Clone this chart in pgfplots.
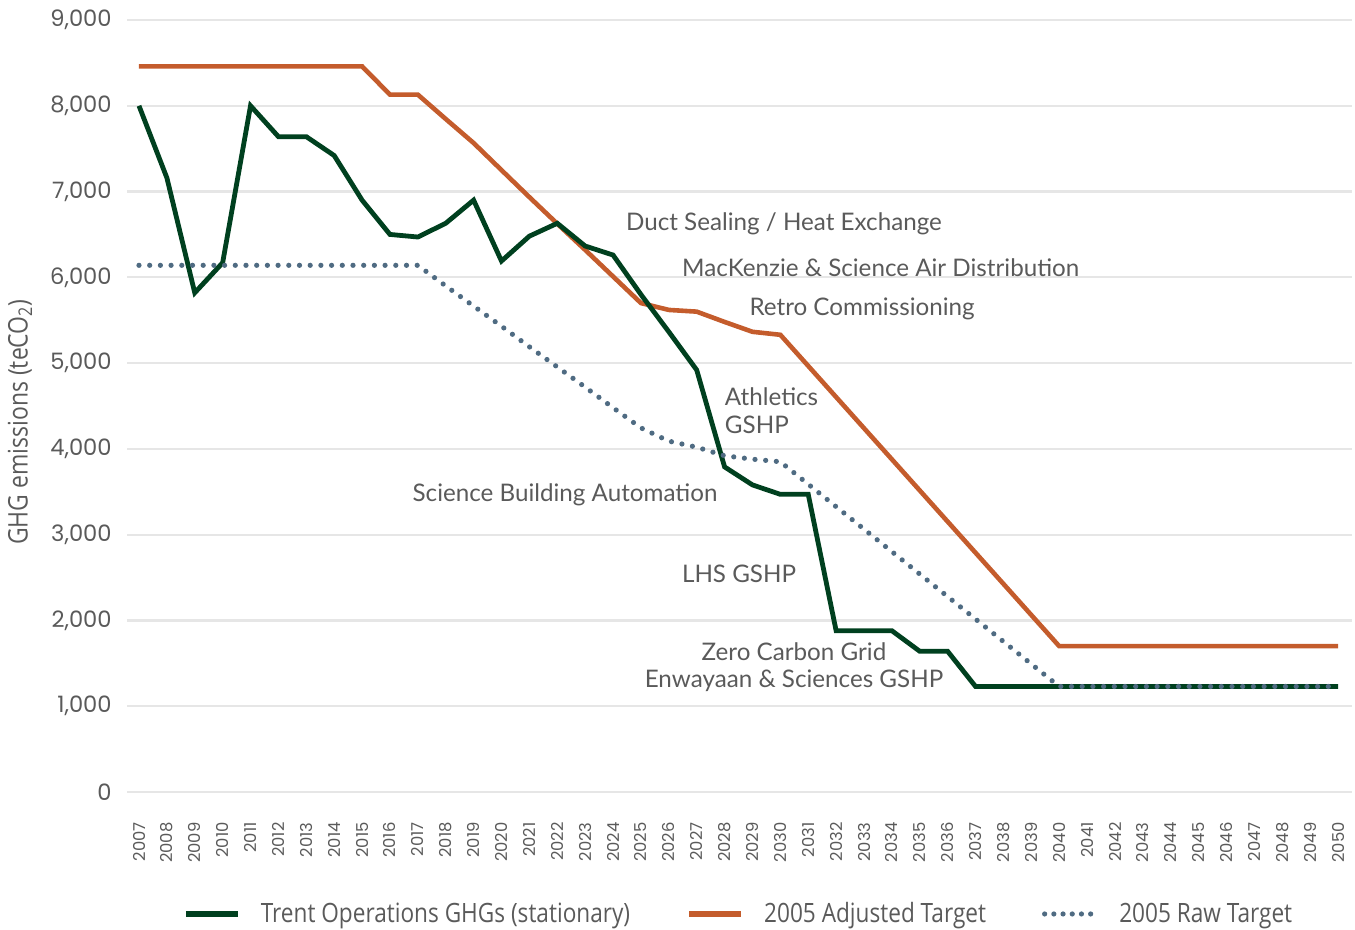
\documentclass[border=0pt]{standalone}
\usepackage{fontspec}
\setmainfont{Lato}
\newfontfamily\tickfont{Poppins}
\newfontfamily\condfont[FakeStretch=0.85]{Open Sans}
\usepackage{pgfplots}
\pgfplotsset{compat=1.18}
\definecolor{cgreen}{HTML}{00401F}
\definecolor{corange}{HTML}{C45C2C}
\definecolor{cblue}{HTML}{4F6B82}
\definecolor{cgrid}{HTML}{E6E6E6}
\definecolor{ctext}{HTML}{5A5A5A}
\begin{document}
\begin{tikzpicture}
\path[use as bounding box] (0,0) rectangle (677.5pt,465pt);
\begin{axis}[
  at={(63.5pt,69pt)}, anchor=south west,
  scale only axis, width=612.5pt, height=386pt,
  xmin=2006.57, xmax=2050.5, ymin=0, ymax=9000,
  axis line style={draw=none},
  major tick length=0pt,
  xtick={2007,2008,2009,2010,2011,2012,2013,2014,2015,2016,2017,2018,2019,2020,2021,2022,2023,2024,2025,2026,2027,2028,2029,2030,2031,2032,2033,2034,2035,2036,2037,2038,2039,2040,2041,2042,2043,2044,2045,2046,2047,2048,2049,2050},
  xticklabels={2007,2008,2009,2010,2011,2012,2013,2014,2015,2016,2017,2018,2019,2020,2021,2022,2023,2024,2025,2026,2027,2028,2029,2030,2031,2032,2033,2034,2035,2036,2037,2038,2039,2040,2041,2042,2043,2044,2045,2046,2047,2048,2049,2050},
  ytick={0,1000,2000,3000,4000,5000,6000,7000,8000,9000},
  ymajorgrids, grid style={cgrid, line width=1.1pt},
  /pgf/number format/assume math mode=true,
  yticklabel style={font=\tickfont\fontsize{11.3}{13}\selectfont, text=ctext, anchor=east, inner xsep=7.5pt, inner ysep=0pt, /pgf/number format/1000 sep={,}},
  xticklabel style={font=\tickfont\fontsize{8.2}{10}\selectfont, text=ctext, rotate=90, anchor=east, inner xsep=15pt, inner ysep=0pt},
  legend style={at={(0.5,-0.158)}, anchor=center, draw=none, fill=none, legend columns=3,
    font=\condfont\fontsize{13.3}{15}\selectfont, text=ctext,
    /tikz/every odd column/.append style={column sep=8pt},
    /tikz/every even column/.append style={column sep=26pt}},
  legend image code/.code={\draw[#1] (0pt,0pt) -- (26pt,0pt);},
  clip=false,
]
\addlegendimage{cgreen, line width=3pt}
\addlegendentry{Trent Operations GHGs (stationary)}
\addlegendimage{corange, line width=3pt}
\addlegendentry{2005 Adjusted Target}
\addlegendimage{cblue, line width=2.6pt, line cap=round, dash pattern=on 0pt off 4.6pt}
\addlegendentry{2005 Raw Target}

\addplot[corange, line width=2.3pt, forget plot] coordinates {
(2007,8460)(2008,8460)(2009,8460)(2010,8460)(2011,8460)(2012,8460)(2013,8460)(2014,8460)(2015,8460)
(2016,8130)(2017,8130)(2018,7846)(2019,7566)(2020,7250)(2021,6935)(2022,6625)(2023,6320)(2024,6010)
(2025,5700)(2026,5620)(2027,5600)(2028,5480)(2029,5365)(2030,5330)(2031,4967)(2032,4604)(2033,4241)
(2034,3878)(2035,3515)(2036,3152)(2037,2789)(2038,2426)(2039,2063)(2040,1700)(2041,1700)(2042,1700)
(2043,1700)(2044,1700)(2045,1700)(2046,1700)(2047,1700)(2048,1700)(2049,1700)(2050,1700)};

\addplot[cgreen, line width=2.4pt, forget plot] coordinates {
(2007,8000)(2008,7160)(2009,5820)(2010,6170)(2011,8000)(2012,7640)(2013,7640)(2014,7420)(2015,6900)
(2016,6500)(2017,6470)(2018,6630)(2019,6900)(2020,6190)(2021,6480)(2022,6630)(2023,6365)(2024,6260)
(2025,5800)(2026,5365)(2027,4920)(2028,3790)(2029,3580)(2030,3470)(2031,3470)(2032,1880)(2033,1880)
(2034,1880)(2035,1640)(2036,1640)(2037,1230)(2038,1230)(2039,1230)(2040,1230)(2041,1230)(2042,1230)
(2043,1230)(2044,1230)(2045,1230)(2046,1230)(2047,1230)(2048,1230)(2049,1230)(2050,1230)};

\addplot[cblue, line width=2.6pt, line cap=round, dash pattern=on 0pt off 5.35pt, forget plot] coordinates {
(2007,6140)(2008,6140)(2009,6140)(2010,6140)(2011,6140)(2012,6140)(2013,6140)(2014,6140)(2015,6140)
(2016,6140)(2017,6140)(2018,5900)(2019,5665)(2020,5430)(2021,5190)(2022,4955)(2023,4720)(2024,4480)
(2025,4245)(2026,4090)(2027,4020)(2028,3920)(2029,3880)(2030,3850)(2031,3588)(2032,3326)(2033,3064)
(2034,2802)(2035,2540)(2036,2278)(2037,2016)(2038,1754)(2039,1492)(2040,1230)(2041,1230)(2042,1230)
(2043,1230)(2044,1230)(2045,1230)(2046,1230)(2047,1230)(2048,1230)(2049,1230)(2050,1230)};

\begin{scope}[every node/.style={text=ctext, font=\fontsize{12.1}{14}\selectfont, inner sep=0pt}]
\node at (axis cs:2030.13,6622) {Duct Sealing / Heat Exchange};
\node at (axis cs:2033.6,6109) {MacKenzie \& Science Air Distribution};
\node at (axis cs:2032.93,5631) {Retro Commissioning};
\node[anchor=west, align=left] at (axis cs:2028.0,4442) {Athletics\\GSHP};
\node at (axis cs:2022.28,3462) {Science Building Automation};
\node at (axis cs:2028.52,2541) {LHS GSHP};
\node at (axis cs:2030.49,1632) {Zero Carbon Grid};
\node at (axis cs:2030.49,1294) {Enwayaan \& Sciences GSHP};
\end{scope}
\end{axis}
\node[rotate=90, text=ctext, font=\condfont\fontsize{13.5}{15}\selectfont] at (10pt,254pt) {GHG emissions (teCO\textsubscript{2})};
\end{tikzpicture}
\end{document}
